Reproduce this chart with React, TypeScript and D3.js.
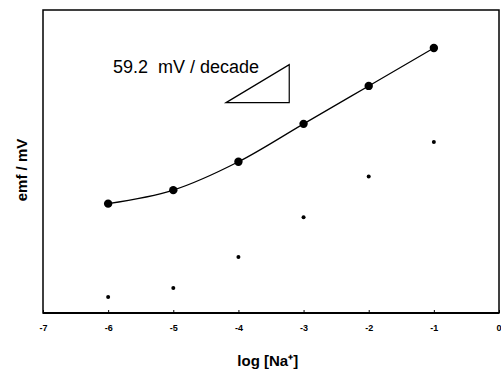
import React, { useEffect, useRef } from 'react';
import * as d3 from 'd3';

// log [Na+] concentrations
const logNa = [-6, -5, -4, -3, -2, -1];
// emf readings (mV, arbitrary offset) for the two electrodes
const emfUpper = [170, 191, 235, 294, 353, 412];
const emfLower = [25, 39, 87, 149, 212, 266];
const xTicks = [-7, -6, -5, -4, -3, -2, -1, 0];
// slope triangle corners (log units, mV)
const triX = [-4.19, -3.22];
const triY = [327, 386];
const slopeLabel = '59.2  mV / decade';

const App: React.FC = () => {
  const ref = useRef<SVGSVGElement>(null);

  useEffect(() => {
    const svg = d3.select(ref.current);
    svg.selectAll('*').remove();

    const margin = { top: 10, right: 2, bottom: 58, left: 43 };
    const width = 501 - margin.left - margin.right;
    const height = 371 - margin.top - margin.bottom;

    const g = svg.append('g').attr('transform', `translate(${margin.left},${margin.top})`);

    const x = d3.scaleLinear().domain([-7, 0]).range([0, width]);
    const y = d3.scaleLinear().domain([0, 471]).range([height, 0]);

    // frame
    g.append('rect')
      .attr('x', 0)
      .attr('y', 0)
      .attr('width', width)
      .attr('height', height)
      .attr('fill', 'none')
      .attr('stroke', '#000')
      .attr('stroke-width', 1.5);
    g.append('line')
      .attr('x1', 0)
      .attr('x2', width)
      .attr('y1', height)
      .attr('y2', height)
      .attr('stroke', '#000')
      .attr('stroke-width', 2.2);

    // x axis
    const xAxis = g
      .append('g')
      .attr('transform', `translate(0, ${height})`)
      .call(
        d3
          .axisBottom(x)
          .tickValues(xTicks)
          .tickSize(-3)
          .tickPadding(12)
          .tickFormat((d) => String(d))
      );
    xAxis.select('.domain').remove();
    xAxis.selectAll('line').attr('stroke-width', 1);
    xAxis
      .selectAll('text')
      .attr('font-family', 'Arial, Liberation Sans, sans-serif')
      .attr('font-size', 9)
      .attr('font-weight', 'bold')
      .attr('fill', '#000');
    // last label sits on the right edge
    xAxis
      .selectAll<SVGTextElement, number>('text')
      .filter((d) => d === 0)
      .attr('text-anchor', 'end')
      .attr('dx', 2);

    // axis titles
    g.append('text')
      .attr('x', x(-3.55))
      .attr('y', height + 53)
      .attr('text-anchor', 'middle')
      .attr('font-family', 'Arial, Liberation Sans, sans-serif')
      .attr('font-size', 15)
      .attr('font-weight', 'bold')
      .text('log [Na⁺]');

    g.append('text')
      .attr('transform', `translate(${-16}, ${160}) rotate(-90)`)
      .attr('text-anchor', 'middle')
      .attr('font-family', 'Arial, Liberation Sans, sans-serif')
      .attr('font-size', 15)
      .attr('font-weight', 'bold')
      .text('emf / mV');

    // upper series line
    const line = d3
      .line<number>()
      .x((_, i) => x(logNa[i]))
      .y((d) => y(d))
      .curve(d3.curveMonotoneX);

    g.append('path')
      .datum(emfUpper)
      .attr('d', line)
      .attr('fill', 'none')
      .attr('stroke', '#000')
      .attr('stroke-width', 1.2);

    g.selectAll('.up')
      .data(emfUpper)
      .enter()
      .append('circle')
      .attr('cx', (_, i) => x(logNa[i]))
      .attr('cy', (d) => y(d))
      .attr('r', 4.2)
      .attr('fill', '#000');

    g.selectAll('.low')
      .data(emfLower)
      .enter()
      .append('circle')
      .attr('cx', (_, i) => x(logNa[i]))
      .attr('cy', (d) => y(d))
      .attr('r', 2)
      .attr('fill', '#000');

    // slope triangle
    const tri: [number, number][] = [
      [x(triX[0]), y(triY[0])],
      [x(triX[1]), y(triY[1])],
      [x(triX[1]), y(triY[0])],
    ];
    g.append('path')
      .attr('d', d3.line()(tri) + 'Z')
      .attr('fill', 'none')
      .attr('stroke', '#000')
      .attr('stroke-width', 1.2);

    g.append('text')
      .attr('x', 113 - margin.left)
      .attr('y', 73 - margin.top)
      .attr('font-family', 'Arial, Liberation Sans, sans-serif')
      .attr('font-size', 18)
      .attr('fill', '#000')
      .style('white-space', 'pre')
      .text(slopeLabel);
  });

  return (
    <svg
      ref={ref}
      width={501}
      height={371}
      style={{ display: 'block', position: 'absolute', left: 0, top: 0, background: '#fff' }}
    />
  );
};

export default App;
